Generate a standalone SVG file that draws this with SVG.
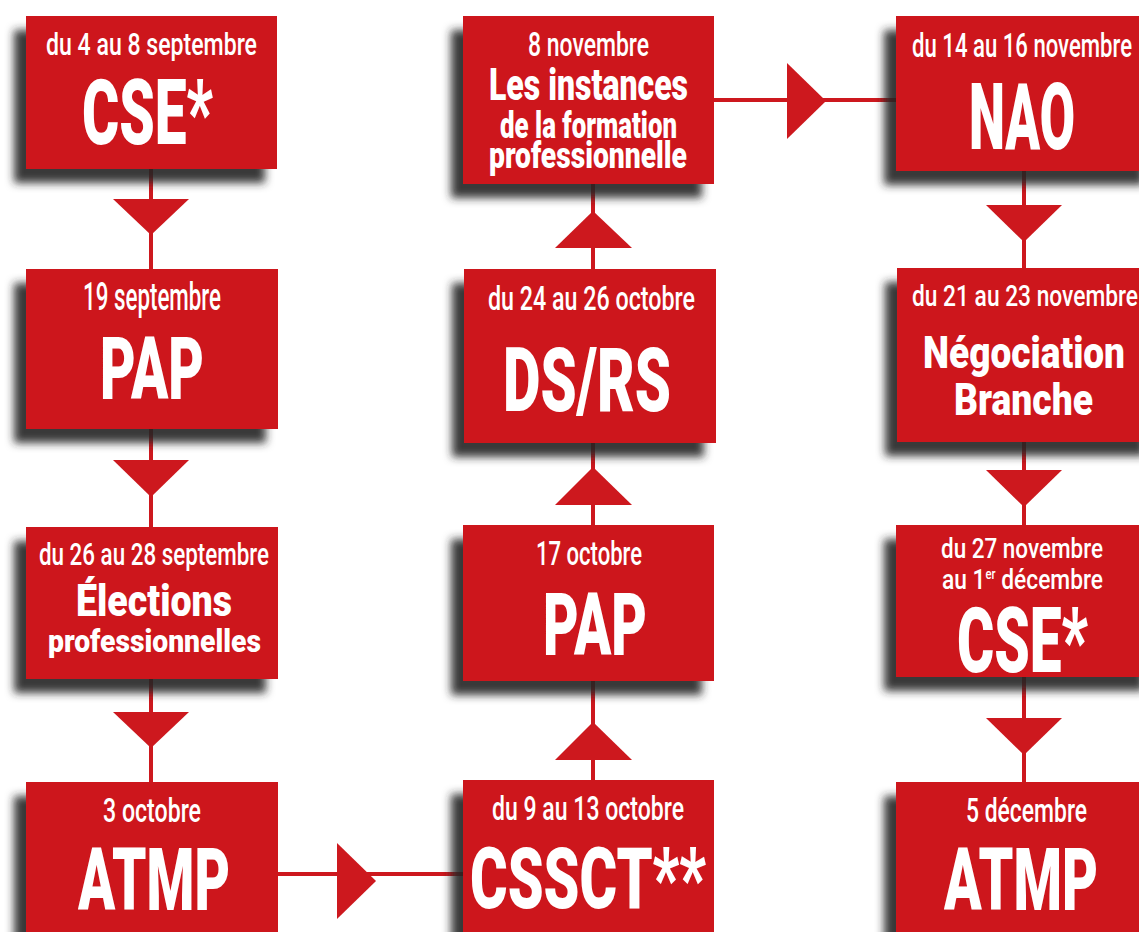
<svg xmlns="http://www.w3.org/2000/svg" width="1139" height="932" viewBox="0 0 1139 932">
<defs>
<filter id="sh" x="-20%" y="-20%" width="140%" height="150%">
<feGaussianBlur in="SourceAlpha" stdDeviation="4"/>
<feOffset dx="-12" dy="14" result="b"/>
<feFlood flood-color="#262626" flood-opacity="0.9"/>
<feComposite in2="b" operator="in"/>
<feMerge><feMergeNode/><feMergeNode in="SourceGraphic"/></feMerge>
</filter>
<style>
.box{fill:#CD181E;filter:url(#sh)}
.ln{stroke:#CD181E;stroke-width:4;fill:none}
.tri{fill:#CD181E}
.d{font-family:Roboto,"Liberation Sans",sans-serif;font-weight:500;fill:#fff}
.t{font-family:Roboto,"Liberation Sans",sans-serif;font-weight:900;fill:#fff}
</style>
</defs>
<rect width="1139" height="932" fill="#fff"/>
<g id="connectors">
<line class="ln" x1="151" y1="169" x2="151" y2="269"/>
<line class="ln" x1="151" y1="429" x2="151" y2="527"/>
<line class="ln" x1="151" y1="679" x2="151" y2="782"/>
<line class="ln" x1="277" y1="874" x2="463" y2="874"/>
<line class="ln" x1="593" y1="681" x2="593" y2="780"/>
<line class="ln" x1="593" y1="443" x2="593" y2="525"/>
<line class="ln" x1="593" y1="184" x2="593" y2="269"/>
<line class="ln" x1="714" y1="100" x2="896" y2="100"/>
<line class="ln" x1="1024" y1="171" x2="1024" y2="268"/>
<line class="ln" x1="1024" y1="442" x2="1024" y2="525"/>
<line class="ln" x1="1024" y1="677" x2="1024" y2="782"/>
<polygon class="tri" points="113,199 189,199 151,235"/>
<polygon class="tri" points="113,460 189,460 151,497"/>
<polygon class="tri" points="113,712 189,712 151,748"/>
<polygon class="tri" points="337,843 337,919 376,881"/>
<polygon class="tri" points="555,760 632,760 593,722"/>
<polygon class="tri" points="555,505 632,505 593,467"/>
<polygon class="tri" points="555,248 632,248 593,211"/>
<polygon class="tri" points="787,63 787,139 826,101"/>
<polygon class="tri" points="986,205 1062,205 1024,242"/>
<polygon class="tri" points="986,470 1062,470 1024,507"/>
<polygon class="tri" points="986,718 1062,718 1024,755"/>
</g>
<g id="n1">
<rect class="box" x="26" y="16" width="251" height="153"/>
<text class="d" transform="translate(46,55) scale(0.65,1)" font-size="32" textLength="324.6" lengthAdjust="spacingAndGlyphs">du 4 au 8 septembre</text>
<text class="t" transform="translate(82,144) scale(0.65,1)" font-size="90" textLength="201.5" lengthAdjust="spacingAndGlyphs">CSE*</text>
</g>
<g id="n2">
<rect class="box" x="26" y="269" width="252" height="160"/>
<text class="d" transform="translate(83,310) scale(0.65,1)" font-size="38" textLength="212.3" lengthAdjust="spacingAndGlyphs">19 septembre</text>
<text class="t" transform="translate(100,399) scale(0.65,1)" font-size="87" textLength="160" lengthAdjust="spacingAndGlyphs">PAP</text>
</g>
<g id="n3">
<rect class="box" x="26" y="527" width="252" height="152"/>
<text class="d" transform="translate(39,565) scale(0.65,1)" font-size="32" textLength="353.8" lengthAdjust="spacingAndGlyphs">du 26 au 28 septembre</text>
<text class="t" transform="translate(76,616) scale(0.65,1)" font-size="44" textLength="240" lengthAdjust="spacingAndGlyphs">Élections</text>
<text class="t" transform="translate(48,652) scale(0.65,1)" font-size="31" textLength="327.7" lengthAdjust="spacingAndGlyphs">professionnelles</text>
</g>
<g id="n4">
<rect class="box" x="26" y="782" width="252" height="160"/>
<text class="d" transform="translate(103,822) scale(0.65,1)" font-size="34" textLength="150.8" lengthAdjust="spacingAndGlyphs">3 octobre</text>
<text class="t" transform="translate(78,910) scale(0.65,1)" font-size="87" textLength="233.8" lengthAdjust="spacingAndGlyphs">ATMP</text>
</g>
<g id="n5">
<rect class="box" x="463" y="780" width="251" height="162"/>
<text class="d" transform="translate(492,820) scale(0.65,1)" font-size="33" textLength="295.4" lengthAdjust="spacingAndGlyphs">du 9 au 13 octobre</text>
<text class="t" transform="translate(470,908) scale(0.65,1)" font-size="85" textLength="363.1" lengthAdjust="spacingAndGlyphs">CSSCT**</text>
</g>
<g id="n6">
<rect class="box" x="463" y="525" width="251" height="156"/>
<text class="d" transform="translate(536,565) scale(0.65,1)" font-size="33" textLength="163.1" lengthAdjust="spacingAndGlyphs">17 octobre</text>
<text class="t" transform="translate(543,655) scale(0.65,1)" font-size="87" textLength="160" lengthAdjust="spacingAndGlyphs">PAP</text>
</g>
<g id="n7">
<rect class="box" x="464" y="269" width="252" height="174"/>
<text class="d" transform="translate(488,310) scale(0.65,1)" font-size="33" textLength="318.5" lengthAdjust="spacingAndGlyphs">du 24 au 26 octobre</text>
<text class="t" transform="translate(503,411) scale(0.65,1)" font-size="89" textLength="258.5" lengthAdjust="spacingAndGlyphs">DS/RS</text>
</g>
<g id="n8">
<rect class="box" x="463" y="16" width="251" height="168"/>
<text class="d" transform="translate(528,56) scale(0.65,1)" font-size="33" textLength="186.2" lengthAdjust="spacingAndGlyphs">8 novembre</text>
<text class="t" transform="translate(489,100) scale(0.65,1)" font-size="44" textLength="306.2" lengthAdjust="spacingAndGlyphs">Les instances</text>
<text class="t" transform="translate(500,138) scale(0.65,1)" font-size="37" textLength="272.3" lengthAdjust="spacingAndGlyphs">de la formation</text>
<text class="t" transform="translate(489,168) scale(0.65,1)" font-size="37" textLength="304.6" lengthAdjust="spacingAndGlyphs">professionnelle</text>
</g>
<g id="n9">
<rect class="box" x="896" y="16" width="260" height="155"/>
<text class="d" transform="translate(912,57) scale(0.65,1)" font-size="33" textLength="338.5" lengthAdjust="spacingAndGlyphs">du 14 au 16 novembre</text>
<text class="t" transform="translate(969,149) scale(0.65,1)" font-size="93" textLength="163.1" lengthAdjust="spacingAndGlyphs">NAO</text>
</g>
<g id="n10">
<rect class="box" x="897" y="268" width="260" height="174"/>
<text class="d" transform="translate(912,306) scale(0.65,1)" font-size="30" textLength="347.7" lengthAdjust="spacingAndGlyphs">du 21 au 23 novembre</text>
<text class="t" transform="translate(923,368) scale(0.65,1)" font-size="44" textLength="310.8" lengthAdjust="spacingAndGlyphs">Négociation</text>
<text class="t" transform="translate(954,415) scale(0.65,1)" font-size="45" textLength="213.8" lengthAdjust="spacingAndGlyphs">Branche</text>
</g>
<g id="n11">
<rect class="box" x="896" y="525" width="260" height="152"/>
<text class="d" transform="translate(941,558) scale(0.65,1)" font-size="28" textLength="249.2" lengthAdjust="spacingAndGlyphs">du 27 novembre</text>
<text class="d" transform="translate(942,589) scale(0.65,1)" font-size="28" textLength="247.7" lengthAdjust="spacingAndGlyphs">au 1<tspan font-size="14" dy="-10">er</tspan><tspan dy="10"> décembre</tspan></text>
<text class="t" transform="translate(957,672) scale(0.65,1)" font-size="91" textLength="201.5" lengthAdjust="spacingAndGlyphs">CSE*</text>
</g>
<g id="n12">
<rect class="box" x="896" y="782" width="260" height="160"/>
<text class="d" transform="translate(966,822) scale(0.65,1)" font-size="34" textLength="186.2" lengthAdjust="spacingAndGlyphs">5 décembre</text>
<text class="t" transform="translate(944,910) scale(0.65,1)" font-size="87" textLength="236.9" lengthAdjust="spacingAndGlyphs">ATMP</text>
</g>
</svg>
